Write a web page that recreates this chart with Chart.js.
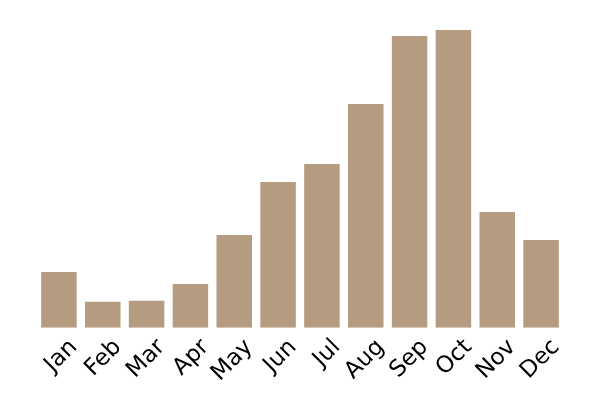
<!DOCTYPE html>
<html>
<head>
<meta charset="utf-8">
<script src="https://cdn.jsdelivr.net/npm/chart.js@4/dist/chart.umd.min.js"></script>
<style>
  html, body { margin:0; padding:0; background:#fff; }
  #wrap { width:600px; height:400px; }
</style>
</head>
<body>
<div id="wrap"><canvas id="Plot"></canvas></div>
<script>
var months = ["Jan","Feb","Mar","Apr","May","Jun","Jul","Aug","Sep","Oct","Nov","Dec"];
var values = [56, 26, 27, 44, 93, 146, 164, 224, 292, 298, 116, 88];
var yMax = 298;

var ctx = document.getElementById("Plot").getContext('2d');

var myChart = new Chart(ctx, {
  type: 'bar',
  data: {
    labels: months,
    datasets: [{
      data: values,
      backgroundColor: '#b59b7f',
      borderWidth: 0,
      barPercentage: 0.9,
      categoryPercentage: 0.9
    }]
  },
  options: {
    responsive: true,
    maintainAspectRatio: false,
    animation: false,
    layout: { padding: { top: 30, left: 37, right: 37, bottom: 7 } },
    plugins: {
      legend: { display: false },
      tooltip: { enabled: false }
    },
    scales: {
      y: {
        display: false,
        min: 0,
        max: yMax
      },
      x: {
        grid: { display: false, drawTicks: false },
        border: { display: false },
        ticks: {
          color: '#000',
          font: { family: 'DejaVu Sans', size: 23 },
          minRotation: 45,
          maxRotation: 45,
          labelOffset: 15,
          padding: 6
        }
      }
    }
  }
});
</script>
</body>
</html>
